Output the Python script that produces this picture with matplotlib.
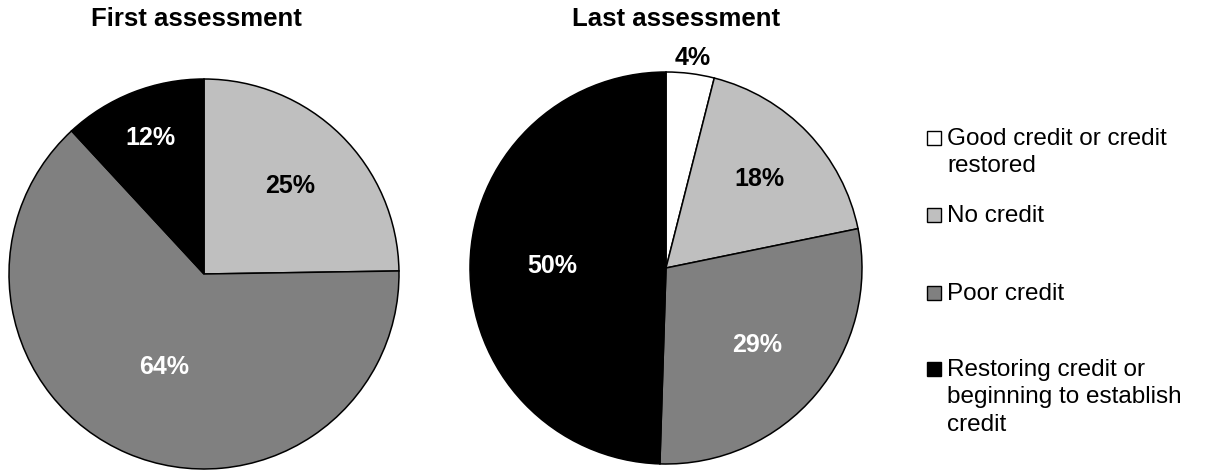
import matplotlib
matplotlib.use("Agg")
import matplotlib.pyplot as plt
from matplotlib.patches import Rectangle
import numpy as np

plt.rcParams['font.family'] = ['Liberation Sans', 'DejaVu Sans']

# Credit status categories and their shares (percent)
categories = ["Good credit or credit\nrestored", "No credit", "Poor credit",
              "Restoring credit or\nbeginning to establish\ncredit"]
first_values = [0, 25, 64, 12]
last_values = [4, 18, 29, 50]
titles = ["First assessment", "Last assessment"]

colors = ["#FFFFFF", "#BFBFBF", "#808080", "#000000"]
label_colors = ["black", "black", "white", "white"]

W, H = 1212, 470
fig = plt.figure(figsize=(W / 100, H / 100), dpi=100)


def px_axes(cx, cy, r):
    return fig.add_axes([(cx - r) / W, (H - cy - r) / H, 2 * r / W, 2 * r / H])


def draw_pie(ax, values, label_dist):
    wedges, _ = ax.pie(values, colors=colors, startangle=90, counterclock=False,
                       radius=1.0,
                       wedgeprops=dict(edgecolor="black", linewidth=1.1))
    for w, v, tc, d in zip(wedges, values, label_colors, label_dist):
        if v == 0:
            continue
        mid = np.deg2rad((w.theta1 + w.theta2) / 2.0)
        ax.text(d * np.cos(mid), d * np.sin(mid), f"{v}%", ha="center",
                va="center", fontsize=18, fontweight="bold", color=tc)
    ax.set_xlim(-1.0, 1.0)
    ax.set_ylim(-1.0, 1.0)
    ax.set_aspect("equal")
    ax.axis("off")


ax1 = px_axes(204, 274, 195)
draw_pie(ax1, first_values, [0.0, 0.63, 0.52, 0.75])
ax2 = px_axes(666, 268, 196)
draw_pie(ax2, last_values, [1.08, 0.66, 0.61, 0.58])

fig.text(196 / W, 1 - 26 / H, titles[0], ha="center", va="baseline",
         fontsize=18.5, fontweight="bold")
fig.text(676 / W, 1 - 26 / H, titles[1], ha="center", va="baseline",
         fontsize=18.5, fontweight="bold")

# Legend drawn entry by entry, square aligned with the first text line
first_baselines = [145, 222, 300, 376]
line_step = 27.5
for cat, col, base in zip(categories, colors, first_baselines):
    sq_top = base - 14
    fig.patches.append(Rectangle((927 / W, 1 - (sq_top + 14) / H), 14 / W, 14 / H,
                                 transform=fig.transFigure, facecolor=col,
                                 edgecolor="black", linewidth=1.0))
    for i, line in enumerate(cat.split("\n")):
        fig.text(947 / W, 1 - (base + i * line_step) / H, line, ha="left",
                 va="baseline", fontsize=17.5)

fig.savefig("out.png", dpi=100, facecolor="white")
